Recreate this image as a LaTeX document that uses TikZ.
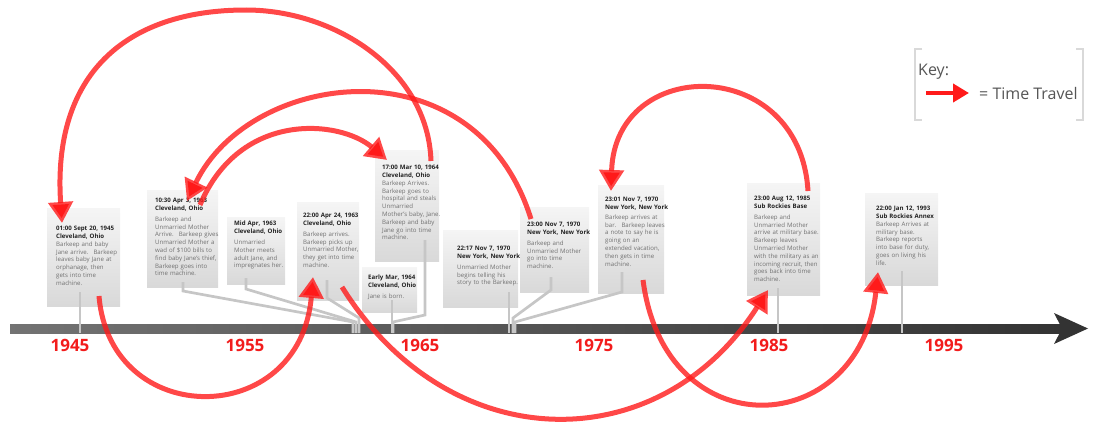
\documentclass[tikz,border=0pt]{standalone}
\usepackage{fontspec}
\setmainfont{Open Sans}
\usetikzlibrary{arrows.meta}

\definecolor{jumpred}{HTML}{FF1A1A}
\definecolor{yearred}{HTML}{F21C1C}
\definecolor{cardtxt}{HTML}{707070}
\definecolor{cardhead}{HTML}{222222}
\definecolor{tickgray}{HTML}{C6C6C6}
\definecolor{keygray}{HTML}{555555}

\tikzset{
  card/.style={anchor=north west, inner sep=0pt, top color=black!4, bottom color=black!15},
  cardtext/.style={anchor=north west, inner sep=0pt, text width=72pt, align=left,
    text=cardtxt, font=\fontsize{6.1}{7.8}\selectfont},
  tick/.style={draw=tickgray, line width=2.7pt},
  jump/.style={draw=jumpred, draw opacity=0.8, line width=5pt,
    -{Triangle[length=21pt,width=24pt]}},
  year/.style={text=yearred, font=\fontsize{17}{17}\selectfont\bfseries},
  keytext/.style={anchor=west, inner sep=0pt, text=keygray, font=\fontsize{16}{16}\selectfont},
}
\newcommand{\when}[2]{{\color{cardhead}\bfseries #1\\#2}}

\begin{document}
\begin{tikzpicture}[x=1pt,y=-1pt]
  \useasboundingbox (0,0) rectangle (1093,423);

  % time line
  \shade[left color=black!55, right color=black!80] (10,324) rectangle (1062,333);
  \fill[black!80] (1054,313) -- (1088,328.5) -- (1054,344) -- (1062,328.5) -- cycle;

  \node[year] (y1945) at (70,345) {1945};
  \node[year] (y1955) at (245,345) {1955};
  \node[year] (y1965) at (420,345) {1965};
  \node[year] (y1975) at (594,345) {1975};
  \node[year] (y1985) at (769,345) {1985};
  \node[year] (y1995) at (944,345) {1995};

  % event cards
  \node[card, minimum width=73, minimum height=98] (orphanage) at (47,208) {};
  \node[card, minimum width=71, minimum height=97] (bills) at (147,190) {};
  \node[card, minimum width=58, minimum height=67] (meets) at (227,217) {};
  \node[card, minimum width=62, minimum height=98] (pickup) at (297,202) {};
  \node[card, minimum width=64, minimum height=111] (hospital) at (375,150) {};
  \node[card, minimum width=55, minimum height=45] (born) at (362,267) {};
  \node[card, minimum width=75, minimum height=77] (story) at (443,230) {};
  \node[card, minimum width=69, minimum height=85] (leave) at (520,207) {};
  \node[card, minimum width=66, minimum height=108] (note) at (598,185) {};
  \node[card, minimum width=73, minimum height=112] (base) at (747,183) {};
  \node[card, minimum width=73, minimum height=92] (annex) at (865,193) {};

  \node[cardtext] (orphanage-t) at (56,226) {\when{01:00 Sept 20, 1945}{Cleveland, Ohio}\\
    Barkeep and baby\\ Jane arrive.~ Barkeep\\ leaves baby Jane at\\ orphanage, then\\
    gets into time\\ machine.};
  \node[cardtext] (bills-t) at (155,198) {\when{10:30 Apr 3, 1963}{Cleveland, Ohio}\\[3pt]
    Barkeep and\\ Unmarried Mother\\ Arrive.~ Barkeep gives\\ Unmarried Mother a\\
    wad of \$100 bills to\\ find baby Jane's thief,\\ Barkeep goes into\\ time machine.};
  \node[cardtext] (meets-t) at (234,221) {\when{Mid Apr, 1963}{Cleveland, Ohio}\\[3pt]
    Unmarried\\ Mother meets\\ adult Jane, and\\ impregnates her.};
  \node[cardtext] (pickup-t) at (303,213) {\when{22:00 Apr 24, 1963}{Cleveland, Ohio}\\[3pt]
    Barkeep arrives.\\ Barkeep picks up\\ Unmarried Mother,\\ they get into time\\ machine.};
  \node[cardtext] (hospital-t) at (382,165) {\when{17:00 Mar 10, 1964}{Cleveland, Ohio}\\
    Barkeep Arrives.\\ Barkeep goes to\\ hospital and steals\\ Unmarried\\
    Mother's baby, Jane.\\ Barkeep and baby\\ Jane go into time\\ machine.};
  \node[cardtext] (born-t) at (368,275) {\when{Early Mar, 1964}{Cleveland, Ohio}\\[3pt]
    Jane is born.};
  \node[cardtext] (story-t) at (457,246) {\when{22:17 Nov 7, 1970}{New York, New York}\\[3pt]
    Unmarried Mother\\ begins telling his\\ story to the Barkeep.};
  \node[cardtext] (leave-t) at (527,222) {\when{23:00 Nov 7, 1970}{New York, New York}\\[3pt]
    Barkeep and\\ Unmarried Mother\\ go into time\\ machine.};
  \node[cardtext] (note-t) at (605,197) {\when{23:01 Nov 7, 1970}{New York, New York}\\[2pt]
    Barkeep arrives at\\ bar.~ Barkeep leaves\\ a note to say he is\\ going on an\\
    extended vacation,\\ then gets in time\\ machine.};
  \node[cardtext] (base-t) at (754,196) {\when{23:00 Aug 12, 1985}{Sub Rockies Base}\\[3pt]
    Barkeep and\\ Unmarried Mother\\ arrive at military base.\\ Barkeep leaves\\
    Unmarried Mother\\ with the military as an\\ incoming recruit, then\\
    goes back into time\\ machine.};
  \node[cardtext] (annex-t) at (876,206) {\when{22:00 Jan 12, 1993}{Sub Rockies Annex}\\
    Barkeep Arrives at\\ military base.\\ Barkeep reports\\ into base for duty,\\
    goes on living his\\ life.};

  % ticks down to the time line
  \draw[tick] (80,292) -- (80,333);
  \draw[tick] (183,282) -- (183,291) -- (353,322) -- (353,333);
  \draw[tick] (246,278) -- (246,289) -- (356,322) -- (356,333);
  \draw[tick] (327,280) -- (327,298) -- (359,318) -- (359,333);
  \draw[tick] (425,240) -- (425,315) -- (393,322) -- (393,333);
  \draw[tick] (392,300) -- (392,333);
  \draw[tick] (509,292) -- (509,333);
  \draw[tick] (551,277) -- (551,290) -- (513,318) -- (513,333);
  \draw[tick] (622,272) -- (622,292) -- (515,322) -- (515,333);
  \draw[tick] (778,288) -- (778,333);
  \draw[tick] (902,271) -- (902,333);

  % time travel jumps
  \draw[jump] (431,161) .. controls (428,70) and (335,10) .. (246,10)
    .. controls (125,10) and (52,75) .. (62,223);
  \draw[jump] (200,205) .. controls (240,110) and (340,120) .. (387,160);
  \draw[jump] (531,219) .. controls (475,40) and (250,70) .. (187,201);
  \draw[jump] (99,296) .. controls (110,430) and (300,430) .. (313,277);
  \draw[jump] (342,287) .. controls (450,460) and (660,460) .. (768,290);
  \draw[jump] (643,280) .. controls (665,450) and (860,440) .. (878,272);
  \draw[jump] (808,191) .. controls (800,55) and (615,55) .. (611,191);

  % key
  \draw[gray!30, line width=1.5pt] (922,49) -- (915,49) -- (915,120) -- (922,120);
  \draw[gray!30, line width=1.5pt] (1076,49) -- (1083,49) -- (1083,120) -- (1076,120);
  \node[keytext] (keyhead) at (918,72) {Key:};
  \coordinate (keyfrom) at (926,93);
  \coordinate (keyto) at (969,93);
  \draw[jump, draw opacity=1, line width=4pt, -{Triangle[length=16pt,width=18pt]}] (keyfrom) -- (keyto);
  \node[keytext] (keylabel) at (979,93) {= Time Travel};
\end{tikzpicture}
\end{document}
